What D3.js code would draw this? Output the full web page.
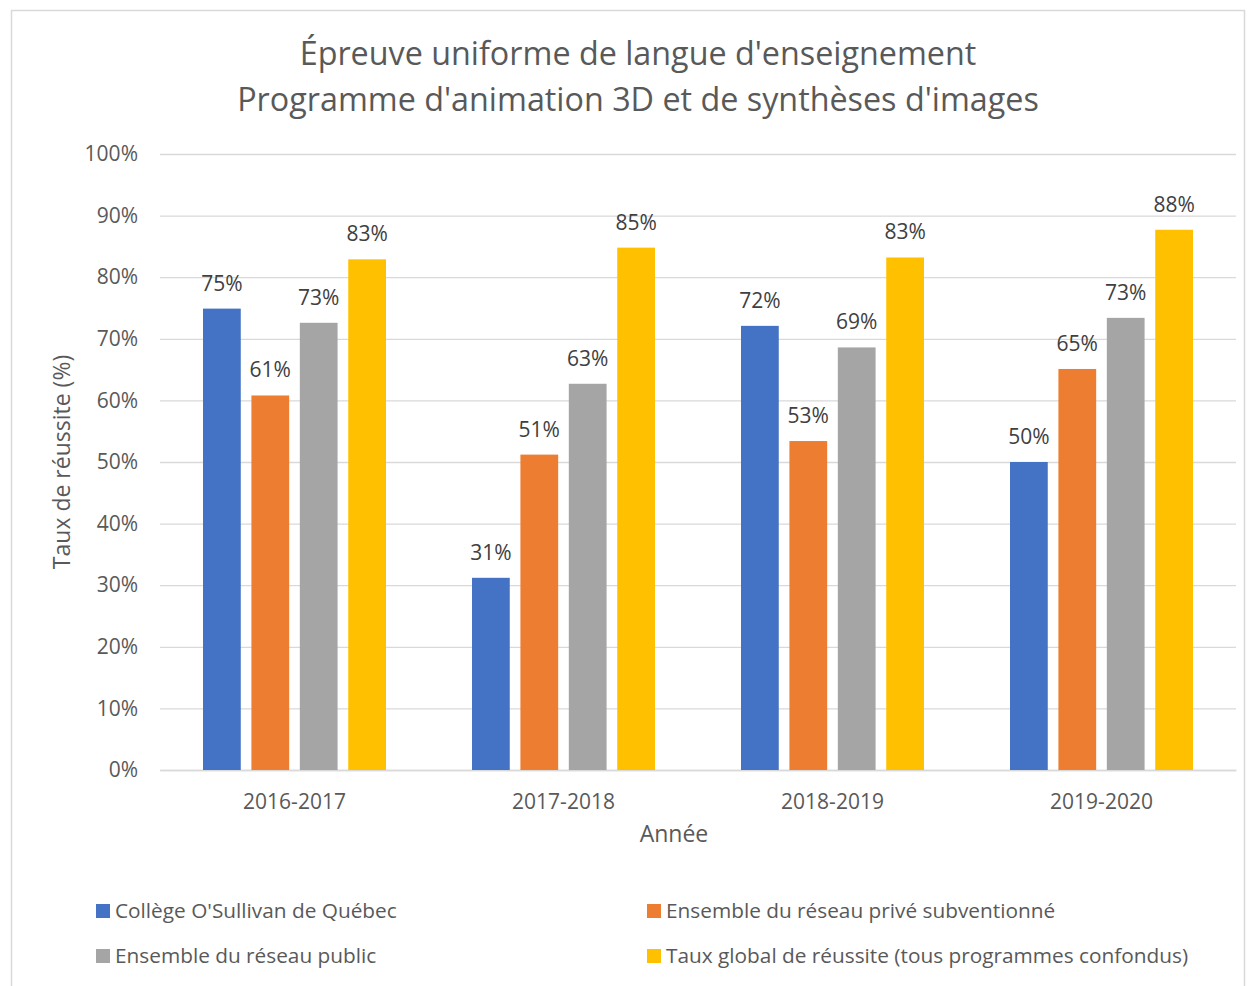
<!DOCTYPE html>
<html>
<head>
<meta charset="utf-8">
<script src="https://cdn.jsdelivr.net/npm/d3@7"></script>
<style>
  body { margin: 0; background: #fff; }
  text { font-family: "Open Sans", "Noto Sans", sans-serif; }
</style>
</head>
<body>
<div id="chart"></div>
<script>
// data
var years = ["2016-2017", "2017-2018", "2018-2019", "2019-2020"];
var seriesNames = [
  "Collège O'Sullivan de Québec",
  "Ensemble du réseau privé subventionné",
  "Ensemble du réseau public",
  "Taux global de réussite (tous programmes confondus)"
];
var seriesColors = ["#4472c4", "#ed7d31", "#a5a5a5", "#ffc000"];
var osullivan = [74.9, 31.2, 72.1, 50.0];
var prive = [60.8, 51.2, 53.4, 65.1];
var publicNet = [72.6, 62.7, 68.6, 73.4];
var global = [82.9, 84.8, 83.2, 87.7];
var yTicks = [0, 10, 20, 30, 40, 50, 60, 70, 80, 90, 100];

var allSeries = [osullivan, prive, publicNet, global];

var svgWidth = 1255;
var svgHeight = 986;
var margin = { top: 154, right: 19, bottom: 216, left: 160 };
var width = svgWidth - margin.left - margin.right;
var height = svgHeight - margin.top - margin.bottom;

var svg = d3.select("#chart")
  .append("svg")
  .attr("width", svgWidth)
  .attr("height", svgHeight);

// outer chart border
svg.append("rect")
  .attr("x", 11.5)
  .attr("y", 10.5)
  .attr("width", 1233)
  .attr("height", 990)
  .attr("fill", "none")
  .attr("stroke", "#d9d9d9")
  .attr("stroke-width", 1.5);

// title
var title = svg.append("text")
  .attr("text-anchor", "middle")
  .attr("fill", "#595959")
  .style("font-size", "32.3px");
title.append("tspan").attr("x", 638).attr("y", 65).text("Épreuve uniforme de langue d'enseignement");
title.append("tspan").attr("x", 638).attr("y", 111).text("Programme d'animation 3D et de synthèses d'images");

var chartGroup = svg.append("g")
  .attr("transform", `translate(${margin.left}, ${margin.top})`);

var x0 = d3.scaleBand()
  .domain(years)
  .range([0, width]);

var x1 = d3.scaleBand()
  .domain(d3.range(seriesNames.length))
  .range([43, x0.bandwidth() - 43])
  .paddingInner(0.22);

var y = d3.scaleLinear()
  .domain([0, 100])
  .range([height, 0]);

// gridlines
chartGroup.append("g")
  .call(d3.axisLeft(y).tickValues(yTicks).tickSize(-width).tickFormat(""))
  .call(g => g.select(".domain").remove())
  .call(g => g.selectAll("line").attr("stroke", "#d9d9d9").attr("stroke-width", 1.3));

// y tick labels
chartGroup.append("g")
  .call(d3.axisLeft(y).tickValues(yTicks).tickSize(0).tickPadding(22).tickFormat(d => d + "%"))
  .call(g => g.select(".domain").remove())
  .call(g => g.selectAll("text").attr("fill", "#595959").style("font-size", "21px")
    .style("font-family", "'Open Sans', sans-serif"));

// x axis
chartGroup.append("g")
  .attr("transform", `translate(0, ${height})`)
  .call(d3.axisBottom(x0).tickSize(0).tickPadding(24))
  .call(g => g.select(".domain").attr("stroke", "#d9d9d9").attr("stroke-width", 1.3))
  .call(g => g.selectAll("text").attr("fill", "#595959").style("font-size", "21px")
    .style("font-family", "'Open Sans', sans-serif"));

// bars
var groups = chartGroup.selectAll(".year")
  .data(years)
  .enter()
  .append("g")
  .attr("transform", d => `translate(${x0(d)}, 0)`);

groups.each(function(yr, i) {
  var g = d3.select(this);
  allSeries.forEach(function(vals, s) {
    g.append("rect")
      .attr("x", x1(s))
      .attr("y", y(vals[i]))
      .attr("width", x1.bandwidth())
      .attr("height", height - y(vals[i]))
      .attr("fill", seriesColors[s]);
    g.append("text")
      .attr("x", x1(s) + x1.bandwidth() / 2)
      .attr("y", y(vals[i]) - 18)
      .attr("text-anchor", "middle")
      .attr("fill", "#404040")
      .style("font-size", "21px")
      .text(Math.round(vals[i]) + "%");
  });
});

// axis titles
svg.append("text")
  .attr("x", 674)
  .attr("y", 842)
  .attr("text-anchor", "middle")
  .attr("fill", "#595959")
  .style("font-size", "23px")
  .text("Année");

svg.append("text")
  .attr("transform", "rotate(-90)")
  .attr("x", -462)
  .attr("y", 70)
  .attr("text-anchor", "middle")
  .attr("fill", "#595959")
  .style("font-size", "23px")
  .text("Taux de réussite (%)");

// legend
var legendPos = [[96, 911], [647, 911], [96, 956], [647, 956]];
var legend = svg.selectAll(".legend")
  .data(seriesNames)
  .enter()
  .append("g")
  .attr("transform", (d, i) => `translate(${legendPos[i][0]}, ${legendPos[i][1]})`);

legend.append("rect")
  .attr("x", 0)
  .attr("y", -7)
  .attr("width", 14)
  .attr("height", 14)
  .attr("fill", (d, i) => seriesColors[i]);

legend.append("text")
  .attr("x", 19)
  .attr("y", 0)
  .attr("dy", "0.35em")
  .attr("fill", "#595959")
  .style("font-size", "20.8px")
  .text(d => d);
</script>
</body>
</html>
